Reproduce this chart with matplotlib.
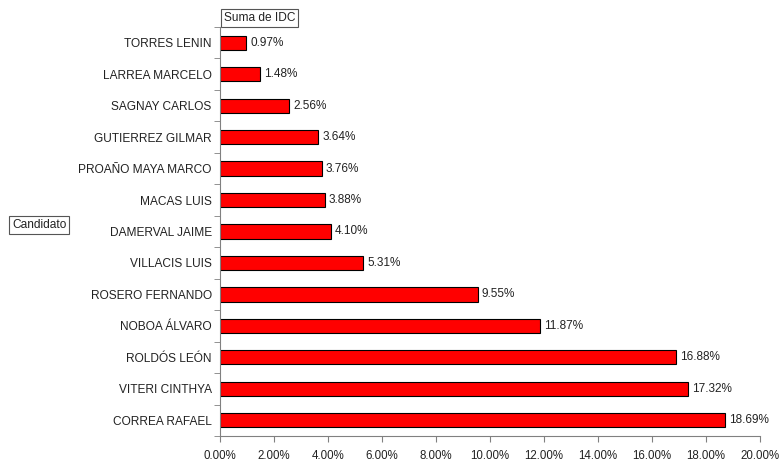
import matplotlib
matplotlib.use("Agg")
import matplotlib.pyplot as plt
import numpy as np

candidates = ["TORRES LENIN", "LARREA MARCELO", "SAGNAY CARLOS", "GUTIERREZ GILMAR",
              "PROAÑO MAYA MARCO", "MACAS LUIS", "DAMERVAL JAIME", "VILLACIS LUIS",
              "ROSERO FERNANDO", "NOBOA ÁLVARO", "ROLDÓS LEÓN", "VITERI CINTHYA",
              "CORREA RAFAEL"]
values = [0.97, 1.48, 2.56, 3.64, 3.76, 3.88, 4.10, 5.31, 9.55, 11.87, 16.88, 17.32, 18.69]
xticks = [0, 2, 4, 6, 8, 10, 12, 14, 16, 18, 20]

plt.rcParams['font.family'] = ['Liberation Sans', 'DejaVu Sans']

fig = plt.figure(figsize=(7.8, 4.62), dpi=100)
ax = fig.add_axes([220/780, 1-436/462, (760-220)/780, (436-27)/462])

n = len(candidates)
y = np.arange(n)[::-1]
ax.barh(y, values, height=0.45, color='#FF0000', edgecolor='black', linewidth=0.8)
for yi, v in zip(y, values):
    ax.text(v + 0.15, yi, f"{v:.2f}%", va='center', ha='left', fontsize=8.5, color='#222222')

ax.set_ylim(-0.5, n - 0.5)
ax.set_xlim(0, 20)
ax.set_yticks(y)
ax.set_yticklabels(candidates, fontsize=8.6, color='#222222')
ax.set_yticks(np.arange(n + 1) - 0.5, minor=True)
ax.tick_params(axis='y', which='major', length=0, pad=6)
ax.tick_params(axis='y', which='minor', length=4, color='#808080')
ax.set_xticks(xticks)
ax.set_xticklabels([f"{t:.2f}%" for t in xticks], fontsize=8.3, color='#222222')
ax.tick_params(axis='x', length=4, color='#808080', pad=6)
for s in ['top', 'right']:
    ax.spines[s].set_visible(False)
for s in ['left', 'bottom']:
    ax.spines[s].set_color('#808080')
    ax.spines[s].set_linewidth(0.8)

box = dict(boxstyle='square,pad=0.25', facecolor='white', edgecolor='#555555', linewidth=0.8)
fig.text(224/780, 1-18/462, "Suma de IDC", fontsize=8.6, va='center', ha='left', bbox=box, color='#222222')
fig.text(12/780, 1-225/462, "Candidato", fontsize=8.6, va='center', ha='left', bbox=box, color='#222222')

fig.savefig("out.png", dpi=100)
